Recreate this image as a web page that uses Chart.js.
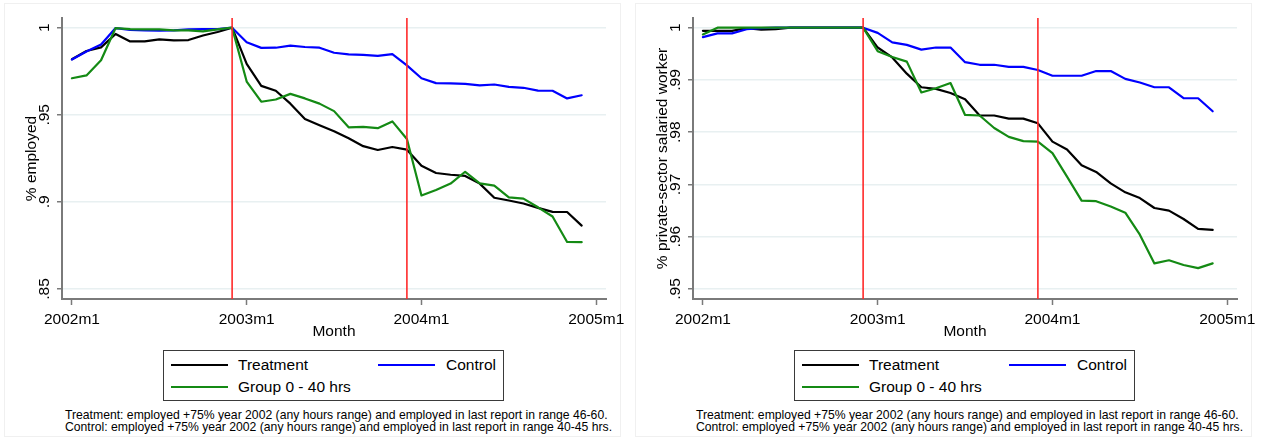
<!DOCTYPE html>
<html>
<head>
<meta charset="utf-8">
<script src="https://cdn.jsdelivr.net/npm/chart.js@4"></script>
<style>
html,body{margin:0;padding:0;background:#fff;}
body{width:1265px;height:440px;position:relative;overflow:hidden;font-family:"Liberation Sans",Arial,sans-serif;}
.panel{position:absolute;top:3px;height:434px;border:1px solid #f0f0f0;box-sizing:border-box;}
canvas{position:absolute;top:0;}
.legend{position:absolute;top:350px;width:341px;height:51px;border:1px solid #3a3a3a;box-sizing:border-box;background:#fff;}
.item{position:absolute;font-size:15.5px;line-height:18px;white-space:nowrap;color:#000;}
.sw{position:absolute;height:2px;width:57px;}
.note{position:absolute;top:410px;font-size:12.2px;line-height:11.7px;white-space:nowrap;color:#000;}
</style>
</head>
<body>
<script>
// ---------------- data ----------------
const months = ['2002m1','2002m2','2002m3','2002m4','2002m5','2002m6','2002m7','2002m8','2002m9','2002m10','2002m11','2002m12',
                '2003m1','2003m2','2003m3','2003m4','2003m5','2003m6','2003m7','2003m8','2003m9','2003m10','2003m11','2003m12',
                '2004m1','2004m2','2004m3','2004m4','2004m5','2004m6','2004m7','2004m8','2004m9','2004m10','2004m11','2004m12'];
const seriesLabels = ['Treatment', 'Control', 'Group 0 - 40 hrs'];
const eventMonths = ['2002m12', '2003m12'];
const xTickLabels = ['2002m1', '2003m1', '2004m1', '2005m1'];

// left panel: % employed
const empTreatment = [0.9819,0.9866,0.9887,0.9964,0.9921,0.9921,0.9933,0.9927,0.9929,0.9955,0.9975,1.0000,
                      0.9792,0.9666,0.9638,0.9564,0.9476,0.9440,0.9406,0.9365,0.9320,0.9298,0.9315,0.9300,
                      0.9207,0.9166,0.9156,0.9149,0.9105,0.9024,0.9008,0.8991,0.8966,0.8943,0.8942,0.8864];
const empControl   = [0.9817,0.9863,0.9903,0.9998,0.9987,0.9985,0.9983,0.9985,0.9990,0.9992,0.9992,1.0000,
                      0.9916,0.9884,0.9885,0.9897,0.9889,0.9885,0.9856,0.9847,0.9844,0.9838,0.9848,0.9784,
                      0.9710,0.9682,0.9680,0.9678,0.9669,0.9674,0.9660,0.9655,0.9639,0.9638,0.9594,0.9612];
const empGroup040  = [0.9710,0.9726,0.9813,0.9998,0.9992,0.9990,0.9990,0.9985,0.9985,0.9979,0.9990,1.0000,
                      0.9691,0.9575,0.9588,0.9620,0.9594,0.9564,0.9521,0.9428,0.9431,0.9423,0.9462,0.9361,
                      0.9037,0.9068,0.9105,0.9173,0.9106,0.9093,0.9026,0.9019,0.8969,0.8916,0.8770,0.8769];
const empYTicks = [0.85, 0.9, 0.95, 1];

// right panel: % private-sector salaried worker
const salTreatment = [0.9994,0.9994,0.9994,0.9999,0.9996,0.9997,1.0000,1.0000,1.0000,1.0000,1.0000,1.0000,
                      0.9962,0.9943,0.9912,0.9886,0.9883,0.9875,0.9863,0.9832,0.9832,0.9826,0.9826,0.9817,
                      0.9782,0.9767,0.9737,0.9724,0.9702,0.9685,0.9674,0.9655,0.9650,0.9634,0.9615,0.9613];
const salControl   = [0.9982,0.9989,0.9989,0.9997,0.9999,1.0000,1.0000,1.0000,1.0000,1.0000,1.0000,1.0000,
                      0.9990,0.9972,0.9967,0.9958,0.9962,0.9962,0.9934,0.9929,0.9929,0.9925,0.9925,0.9919,
                      0.9908,0.9908,0.9908,0.9917,0.9917,0.9902,0.9895,0.9886,0.9886,0.9865,0.9865,0.9840];
const salGroup040  = [0.9987,1.0000,1.0000,1.0000,1.0000,1.0000,1.0000,1.0000,1.0000,1.0000,1.0000,1.0000,
                      0.9955,0.9944,0.9935,0.9876,0.9884,0.9894,0.9833,0.9832,0.9808,0.9791,0.9783,0.9782,
                      0.9760,0.9715,0.9669,0.9668,0.9658,0.9646,0.9604,0.9549,0.9555,0.9546,0.9540,0.9549];
const salYTicks = [0.95, 0.96, 0.97, 0.98, 0.99, 1];

const noteLines = [
  'Treatment: employed +75% year 2002 (any hours range) and employed in last report in range 46-60.',
  'Control: employed +75% year 2002 (any hours range) and employed in last report in range 40-45 hrs.'
];

// ---------------- styles ----------------
const seriesColors = ['#000000', '#0000ff', '#148a14'];
const eventColor = '#ff2a2a';
const axisGray = '#7a7a7a';
const gridColor = '#e8f0f1';
const FONT = '"Liberation Sans", Arial, sans-serif';

function monthIndex(label) {
  const parts = label.split('m');
  return (Number(parts[0]) - 2002) * 12 + (Number(parts[1]) - 1);
}
function yLabel(v) {
  const s = String(Math.round(v * 100) / 100);
  return s.startsWith('0') ? s.slice(1) : s;
}

function buildPanel(left, canvasId, values, yTicks, yMin, yMax, yTitle) {
  const panel = document.createElement('div');
  panel.className = 'panel';
  panel.style.left = (left + 4) + 'px';
  panel.style.width = '617px';
  document.body.appendChild(panel);

  const cv = document.createElement('canvas');
  cv.id = canvasId;
  cv.width = 634; cv.height = 345;
  cv.style.left = left + 'px';
  cv.style.width = '634px'; cv.style.height = '345px';
  document.body.appendChild(cv);

  const xTickVals = xTickLabels.map(monthIndex);
  const datasets = [];
  values.forEach((arr, k) => {
    datasets.push({
      label: seriesLabels[k],
      data: arr.map((v, i) => ({x: monthIndex(months[i]), y: v})),
      borderColor: seriesColors[k],
      borderWidth: 2.2,
      pointRadius: 0,
      tension: 0,
      fill: false,
      borderJoinStyle: 'round',
      borderCapStyle: 'round',
      order: 3 - k
    });
  });
  eventMonths.forEach(m => {
    datasets.push({
      label: 'event ' + m,
      data: [{x: monthIndex(m), y: yMin}, {x: monthIndex(m), y: yMax}],
      borderColor: eventColor,
      borderWidth: 1.6,
      pointRadius: 0,
      fill: false,
      order: 0
    });
  });

  new Chart(cv, {
    type: 'line',
    data: {datasets},
    options: {
      responsive: false,
      animation: false,
      devicePixelRatio: 1,
      layout: {padding: {left: 0, top: 18, right: 28, bottom: 0}},
      plugins: {legend: {display: false}, tooltip: {enabled: false}},
      scales: {
        x: {
          type: 'linear',
          min: -0.68, max: 36.67,
          afterBuildTicks: s => { s.ticks = xTickVals.map(v => ({value: v})); },
          afterFit: s => { s.height = 46; s.paddingLeft = 0; s.paddingRight = 0; },
          ticks: {
            callback: (v) => xTickLabels[xTickVals.indexOf(v)],
            font: {family: FONT, size: 15.5}, color: '#000', padding: 5,
            maxRotation: 0, minRotation: 0, autoSkip: false
          },
          grid: {drawOnChartArea: false, drawTicks: true, tickLength: 6, tickColor: axisGray, tickWidth: 1.5},
          border: {display: true, color: axisGray, width: 2},
          title: {display: true, text: 'Month', color: '#000', font: {family: FONT, size: 15.5}, padding: {top: 0, bottom: 4}}
        },
        y: {
          type: 'linear',
          min: yMin, max: yMax,
          afterBuildTicks: s => { s.ticks = yTicks.map(v => ({value: v})); },
          afterFit: s => { s.width = 62; s.paddingTop = 0; s.paddingBottom = 0; },
          ticks: {
            callback: v => yLabel(v),
            font: {family: FONT, size: 15.5}, color: '#000', padding: 2,
            minRotation: 90, maxRotation: 90, crossAlign: 'center', autoSkip: false
          },
          grid: {color: gridColor, lineWidth: 1.5, drawTicks: true, tickLength: 5, tickColor: axisGray, tickWidth: 1.5},
          border: {display: true, color: axisGray, width: 2},
          title: {display: true, text: yTitle, color: '#000', font: {family: FONT, size: 15.5}, padding: {top: 22, bottom: 0}}
        }
      }
    }
  });

  // legend (two columns, boxed)
  const lg = document.createElement('div');
  lg.className = 'legend';
  lg.style.left = (left + 163) + 'px';
  const slots = [{sx: 7, tx: 74, sy: 12.5, ty: 5}, {sx: 214, tx: 282, sy: 12.5, ty: 5}, {sx: 7, tx: 74, sy: 34.5, ty: 26.5}];
  seriesLabels.forEach((lab, k) => {
    const sw = document.createElement('div');
    sw.className = 'sw';
    sw.style.left = slots[k].sx + 'px';
    sw.style.top = slots[k].sy + 'px';
    sw.style.background = seriesColors[k];
    lg.appendChild(sw);
    const t = document.createElement('div');
    t.className = 'item';
    t.style.left = slots[k].tx + 'px';
    t.style.top = slots[k].ty + 'px';
    t.textContent = lab;
    lg.appendChild(t);
  });
  document.body.appendChild(lg);

  const note = document.createElement('div');
  note.className = 'note';
  note.style.left = (left + 65) + 'px';
  note.innerHTML = noteLines.map(s => s.replace(/&/g, '&amp;')).join('<br>');
  document.body.appendChild(note);
}

buildPanel(0, 'chartLeft', [empTreatment, empControl, empGroup040], empYTicks, 0.84427, 1.00556, '% employed');
buildPanel(631, 'chartRight', [salTreatment, salControl, salGroup040], salYTicks, 0.94809, 1.00185, '% private-sector salaried worker');
</script>
</body>
</html>
